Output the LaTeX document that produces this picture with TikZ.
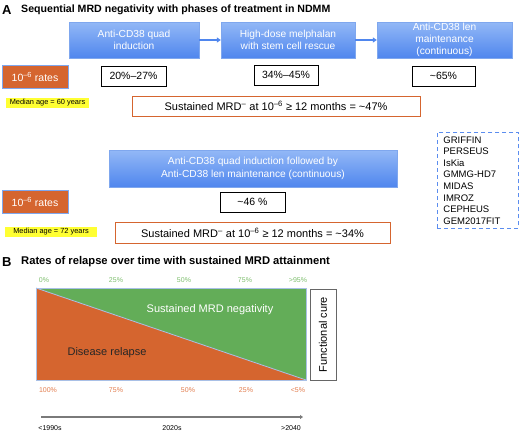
\documentclass[tikz,border=0pt]{standalone}
\usepackage{fontspec}
\setmainfont{Liberation Sans}
\usepackage{xcolor}
\usepackage{tikz}
\usetikzlibrary{arrows.meta}
\definecolor{phasetop}{HTML}{93B8F6}
\definecolor{phasebot}{HTML}{4F86EE}
\definecolor{phaseline}{HTML}{7FA7EE}
\definecolor{relapse}{HTML}{D5652F}
\definecolor{negative}{HTML}{63AD58}
\definecolor{marker}{HTML}{FFFF33}
\definecolor{trialline}{HTML}{5B8DEF}
\definecolor{slope}{HTML}{A9C0E6}
\definecolor{pctgreen}{HTML}{7EBE6E}
\definecolor{pctorange}{HTML}{E27D4E}
\definecolor{axisgray}{HTML}{7A7A7A}

\begin{document}
\begin{tikzpicture}[x=1pt, y=-1pt,
        phase/.style={draw=phaseline, top color=phasetop, bottom color=phasebot, text=white,
            align=center, inner sep=0pt, font=\fontsize{10.2}{12.3}\selectfont},
        rates/.style={draw=phaseline, fill=relapse, text=white, minimum width=66pt, minimum height=23pt,
            inner sep=0pt, font=\fontsize{10.5}{12}\selectfont},
        pct/.style={draw=black, thick, minimum height=20pt, inner sep=0pt, font=\fontsize{10.5}{12}\selectfont},
        age/.style={fill=marker, inner sep=0pt, minimum height=10pt, font=\fontsize{7.4}{8}\selectfont},
        sustained/.style={draw=relapse, thick, minimum height=20pt, inner sep=0pt, font=\fontsize{11}{12}\selectfont},
        heading/.style={anchor=west, inner sep=0pt, font=\fontsize{10.6}{12}\selectfont\bfseries},
        tick/.style={inner sep=0pt, font=\fontsize{7}{8}\selectfont}]
        \useasboundingbox (0,0) rectangle (520,432);

        % panel A
        \node (la) [heading, font=\fontsize{13}{14}\selectfont\bfseries] at (2,10) {A};
        \node (ta) [heading] at (21,10) {Sequential MRD negativity with phases of treatment in NDMM};

        \node (induct) [phase, minimum width=130pt, minimum height=36pt] at (134,40) {Anti-CD38 quad\\induction};
        \node (rescue) [phase, minimum width=134pt, minimum height=36pt] at (288,40) {High-dose melphalan\\with stem cell rescue};
        \node (maint) [phase, minimum width=135pt, minimum height=36pt] at (444.5,40) {Anti-CD38 len\\maintenance\\(continuous)};

        \node (ratesa) [rates] at (35,76.5) {10\textsuperscript{–6} rates};
        \node (pinduct) [pct, minimum width=65pt] at (133.5,76) {20\%–27\%};
        \node (prescue) [pct, minimum width=64pt] at (286,75) {34\%–45\%};
        \node (pmaint) [pct, minimum width=63pt] at (443.5,76) {\textasciitilde65\%};

        \node (agea) [age, minimum width=83pt] at (47.5,103) {Median age = 60 years};
        \node (susta) [sustained, minimum width=288pt] at (276,106)
            {Sustained MRD\textsuperscript{–} at 10\textsuperscript{–6} ≥ 12 months = \textasciitilde47\%};

        \node (combo) [phase, minimum width=288pt, minimum height=37pt] at (253,168.5)
            {Anti-CD38 quad induction followed by\\Anti-CD38 len maintenance (continuous)};
        \node (ratesb) [rates] at (35,201.5) {10\textsuperscript{–6} rates};
        \node (pcombo) [pct, minimum width=65pt] at (252.5,202) {\textasciitilde46 \%};
        \node (ageb) [age, minimum width=92pt] at (51,232) {Median age = 72 years};
        \node (sustb) [sustained, minimum width=275pt, minimum height=21pt] at (252.5,232.5)
            {Sustained MRD\textsuperscript{–} at 10\textsuperscript{–6} ≥ 12 months = \textasciitilde34\%};

        \node (trials) [draw=trialline, thick, dash pattern=on 4pt off 3pt, anchor=north west, align=left,
            text width=69pt, inner xsep=6pt, inner ysep=4pt, font=\fontsize{9.5}{11.6}\selectfont] at (437,132)
            {GRIFFIN\\PERSEUS\\IsKia\\GMMG-HD7\\MIDAS\\IMROZ\\CEPHEUS\\GEM2017FIT};

        \draw[-{Triangle[length=4pt, width=5pt]}, phasebot, line width=1.5pt] (induct) -- (rescue);
        \draw[-{Triangle[length=4pt, width=5pt]}, phasebot, line width=1.5pt] (rescue) -- (maint);

        % panel B
        \node (lb) [heading, font=\fontsize{13}{14}\selectfont\bfseries] at (2,262) {B};
        \node (tb) [heading, font=\fontsize{11.2}{12}\selectfont\bfseries] at (21,262) {Rates of relapse over time with sustained MRD attainment};

        \fill[negative] (36,288) rectangle (306,380);
        \fill[relapse] (36,288) -- (306,380) -- (36,380) -- cycle;
        \draw[slope, thick] (36,288) -- (306,380);
        \draw[slope, thin] (36,288) rectangle (306,380);

        \node (neg) [text=white, font=\fontsize{11}{13}\selectfont] at (210,310) {Sustained MRD negativity};
        \node (rel) [text=black!85, font=\fontsize{11}{13}\selectfont] at (107,353) {Disease relapse};
        \node (cure) [draw=black!60, fill=white, rotate=90, minimum width=91pt, minimum height=26pt,
            inner sep=0pt, font=\fontsize{11}{13}\selectfont] at (323,334.5) {Functional cure};

        \foreach \x/\t in {44/0\%, 116/25\%, 184/50\%, 245/75\%, 298/>95\%}
            \node[tick, text=pctgreen] at (\x,280) {\t};
        \foreach \x/\t in {48/100\%, 116/75\%, 188/50\%, 246/25\%, 298/<5\%}
            \node[tick, text=pctorange] at (\x,390) {\t};

        \coordinate (start) at (41,417);
        \coordinate (stop) at (303,417);
        \draw[-{Triangle[length=3pt, width=4pt]}, axisgray, line width=1.2pt] (start) -- (stop);
        \node (early) [tick] at (50,428) {<1990s};
        \node (now) [tick] at (172,428) {2020s};
        \node (late) [tick] at (291,428) {>2040};
\end{tikzpicture}
\end{document}
